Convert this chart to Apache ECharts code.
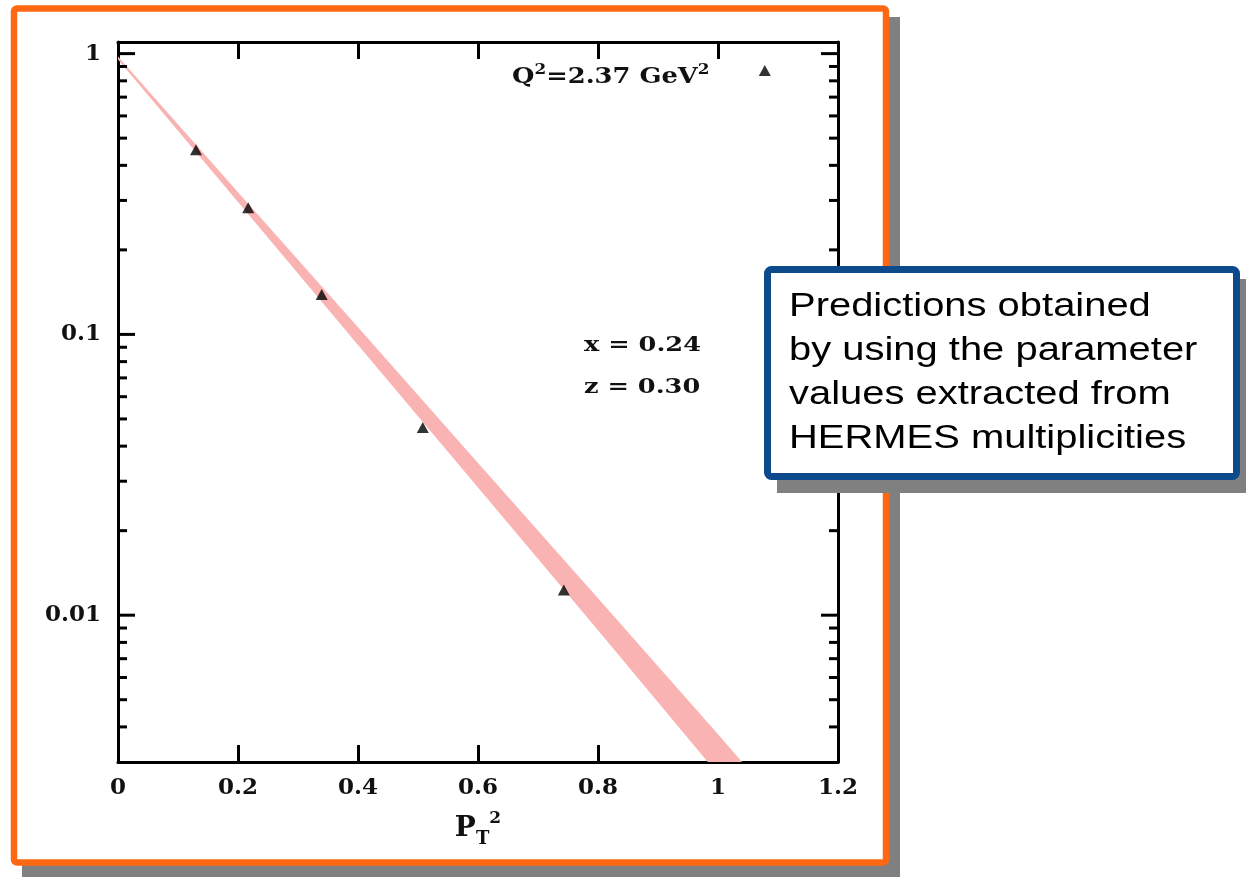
<!DOCTYPE html>
<html>
<head>
<meta charset="utf-8">
<script src="https://cdn.jsdelivr.net/npm/echarts@6/dist/echarts.min.js"></script>
<style>
  html, body { margin: 0; padding: 0; background: #ffffff; }
  #chart { width: 1246px; height: 877px; }
</style>
</head>
<body>
<div id="chart"></div>
<script>
// Measured multiplicities (triangles)
const dataPt2 = [0.130, 0.217, 0.3395, 0.508, 0.743, 1.078];
const dataMult = [0.455, 0.2825, 0.1388, 0.0466, 0.0123, 0.870];

// Prediction band: upper and lower edges
const bandUpperPt2 = [0, 0.2, 0.4, 0.6, 0.8, 1.0, 1.04];
const bandUpperVal = [0.976, 0.321, 0.106, 0.0348, 0.0115, 0.00377, 0.003];
const bandLowerPt2 = [0, 0.2, 0.4, 0.6, 0.8, 0.983];
const bandLowerVal = [0.952, 0.296, 0.0917, 0.0285, 0.00884, 0.003];

// Axis ticks
const xMin = 0, xMax = 1.2, xStep = 0.2;
const yMin = 0.003, yMax = 1.1;
const yMajorTicks = [0.01, 0.1, 1];
const yMajorLabels = ['0.01', '0.1', '1'];
const yMinorTicks = [0.004, 0.005, 0.006, 0.007, 0.008, 0.009,
                     0.02, 0.03, 0.04, 0.05, 0.06, 0.07, 0.08, 0.09,
                     0.2, 0.3, 0.4, 0.5, 0.6, 0.7, 0.8, 0.9];

// Annotation texts
const kinematicsTitle = '{m|Q}{s|2}{m|=2.37 GeV}{s|2}';
const xLabelText = 'x = 0.24';
const zLabelText = 'z = 0.30';
const noteLines = ['Predictions obtained', 'by using the parameter', 'values extracted from', 'HERMES multiplicities'];

const SERIF = '"DejaVu Serif", "Liberation Serif", serif';
const SANS = '"Liberation Sans", Arial, sans-serif';
const INK = '#111111';

const chart = echarts.init(document.getElementById('chart'), null, { renderer: 'canvas' });

const axisLine = { show: true, onZero: false, lineStyle: { color: '#000', width: 3 } };
const xTick = { show: true, inside: true, length: 17, lineStyle: { color: '#000', width: 3 } };

const yTickData = yMajorTicks.map((v, i) => [0, v, 1, i])
  .concat(yMinorTicks.map((v) => [0, v, 0, -1]));

const option = {
  backgroundColor: '#ffffff',
  animation: false,
  grid: { left: 118, top: 42, width: 720, height: 720, containLabel: false },
  xAxis: [
    {
      type: 'value', position: 'bottom', min: xMin, max: xMax, interval: xStep,
      axisLine, axisTick: xTick, splitLine: { show: false },
      axisLabel: { margin: 15, color: INK, fontFamily: SERIF, fontWeight: 'bold', fontSize: 23 },
      name: '{p|P}{sub|T}{sup|2}',
      nameLocation: 'middle', nameGap: 48,
      nameTextStyle: {
        rich: {
          p: { fontFamily: SERIF, fontWeight: 'bold', fontSize: 28, color: INK, lineHeight: 38, verticalAlign: 'middle' },
          sub: { fontFamily: SERIF, fontWeight: 'bold', fontSize: 18, color: INK, lineHeight: 18, verticalAlign: 'bottom' },
          sup: { fontFamily: SERIF, fontWeight: 'bold', fontSize: 17, color: INK, lineHeight: 18, verticalAlign: 'top' }
        }
      }
    },
    {
      type: 'value', position: 'top', min: xMin, max: xMax, interval: xStep,
      axisLine, axisTick: xTick, splitLine: { show: false }, axisLabel: { show: false }
    }
  ],
  yAxis: [
    {
      type: 'log', logBase: 10, position: 'left', min: yMin, max: yMax,
      axisLine, axisTick: { show: false }, axisLabel: { show: false },
      splitLine: { show: false }, minorTick: { show: false }
    },
    {
      type: 'log', logBase: 10, position: 'right', min: yMin, max: yMax,
      axisLine, axisTick: { show: false }, axisLabel: { show: false },
      splitLine: { show: false }, minorTick: { show: false }
    }
  ],
  series: [
    {
      // prediction band between the two edge curves
      type: 'custom', name: 'band', coordinateSystem: 'cartesian2d',
      xAxisIndex: 0, yAxisIndex: 0, clip: true, silent: true, z: 1,
      data: [[0, 1]],
      renderItem(params, api) {
        const pts = [];
        for (let i = 0; i < bandUpperPt2.length; i++) pts.push(api.coord([bandUpperPt2[i], bandUpperVal[i]]));
        for (let i = bandLowerPt2.length - 1; i >= 0; i--) pts.push(api.coord([bandLowerPt2[i], bandLowerVal[i]]));
        return { type: 'polygon', shape: { points: pts }, style: { fill: '#fab3b3', stroke: null } };
      }
    },
    {
      // log-axis ticks (major with labels, minor 2..9) on left and right
      type: 'custom', name: 'yticks', coordinateSystem: 'cartesian2d',
      xAxisIndex: 0, yAxisIndex: 0, clip: false, silent: true, z: 5,
      data: yTickData,
      renderItem(params, api) {
        const v = api.value(1);
        const major = api.value(2) === 1;
        const len = major ? 17 : 9;
        const l = api.coord([xMin, v]);
        const r = api.coord([xMax, v]);
        const children = [
          { type: 'line', shape: { x1: l[0], y1: l[1], x2: l[0] + len, y2: l[1] }, style: { stroke: '#000', lineWidth: 3 } },
          { type: 'line', shape: { x1: r[0], y1: r[1], x2: r[0] - len, y2: r[1] }, style: { stroke: '#000', lineWidth: 3 } }
        ];
        if (major) {
          children.push({
            type: 'text', x: l[0] - 17, y: l[1],
            style: {
              text: yMajorLabels[api.value(3)], fill: INK,
              font: 'bold 23px ' + SERIF, align: 'right', verticalAlign: 'middle'
            }
          });
        }
        return { type: 'group', children };
      }
    },
    {
      type: 'scatter', name: 'data', xAxisIndex: 0, yAxisIndex: 0, z: 6,
      symbol: 'triangle', symbolSize: [12, 11],
      itemStyle: { color: '#000' },
      data: dataPt2.map((x, i) => [x, dataMult[i]])
    }
  ],
  graphic: [
    // slide frame with drop shadow
    { type: 'rect', z: -20, silent: true, shape: { x: 22, y: 17, width: 878, height: 862 }, style: { fill: '#808080' } },
    { type: 'rect', z: -19, silent: true, shape: { x: 14, y: 8.5, width: 872, height: 854, r: 3 }, style: { fill: '#ffffff', stroke: '#ff6812', lineWidth: 6.5 } },
    // kinematics annotations
    {
      type: 'text', z: 10, x: 512, y: 77, scaleX: 1.12, silent: true,
      style: {
        text: kinematicsTitle, align: 'left', verticalAlign: 'middle',
        rich: {
          m: { fontFamily: SERIF, fontWeight: 'bold', fontSize: 23, fill: INK, lineHeight: 28, verticalAlign: 'middle' },
          s: { fontFamily: SERIF, fontWeight: 'bold', fontSize: 15, fill: INK, lineHeight: 16, verticalAlign: 'top' }
        }
      }
    },
    {
      type: 'text', z: 10, x: 584, y: 346, scaleX: 1.22, silent: true,
      style: { text: xLabelText, font: 'bold 21px ' + SERIF, fill: INK, align: 'left', verticalAlign: 'middle' }
    },
    {
      type: 'text', z: 10, x: 584, y: 388, scaleX: 1.22, silent: true,
      style: { text: zLabelText, font: 'bold 21px ' + SERIF, fill: INK, align: 'left', verticalAlign: 'middle' }
    },
    // note box
    { type: 'rect', z: 100, silent: true, shape: { x: 777, y: 279, width: 480, height: 214 }, style: { fill: '#808080' } },
    { type: 'rect', z: 101, silent: true, shape: { x: 767.5, y: 269.5, width: 469, height: 207, r: 4 }, style: { fill: '#ffffff', stroke: '#0c4a8c', lineWidth: 7 } },
    {
      type: 'text', z: 102, x: 789, y: 285, scaleX: 1.21, silent: true,
      style: { text: noteLines.join('\n'), font: '33px ' + SANS, lineHeight: 44, fill: '#000', align: 'left', verticalAlign: 'top' }
    }
  ]
};

chart.setOption(option);
</script>
</body>
</html>
